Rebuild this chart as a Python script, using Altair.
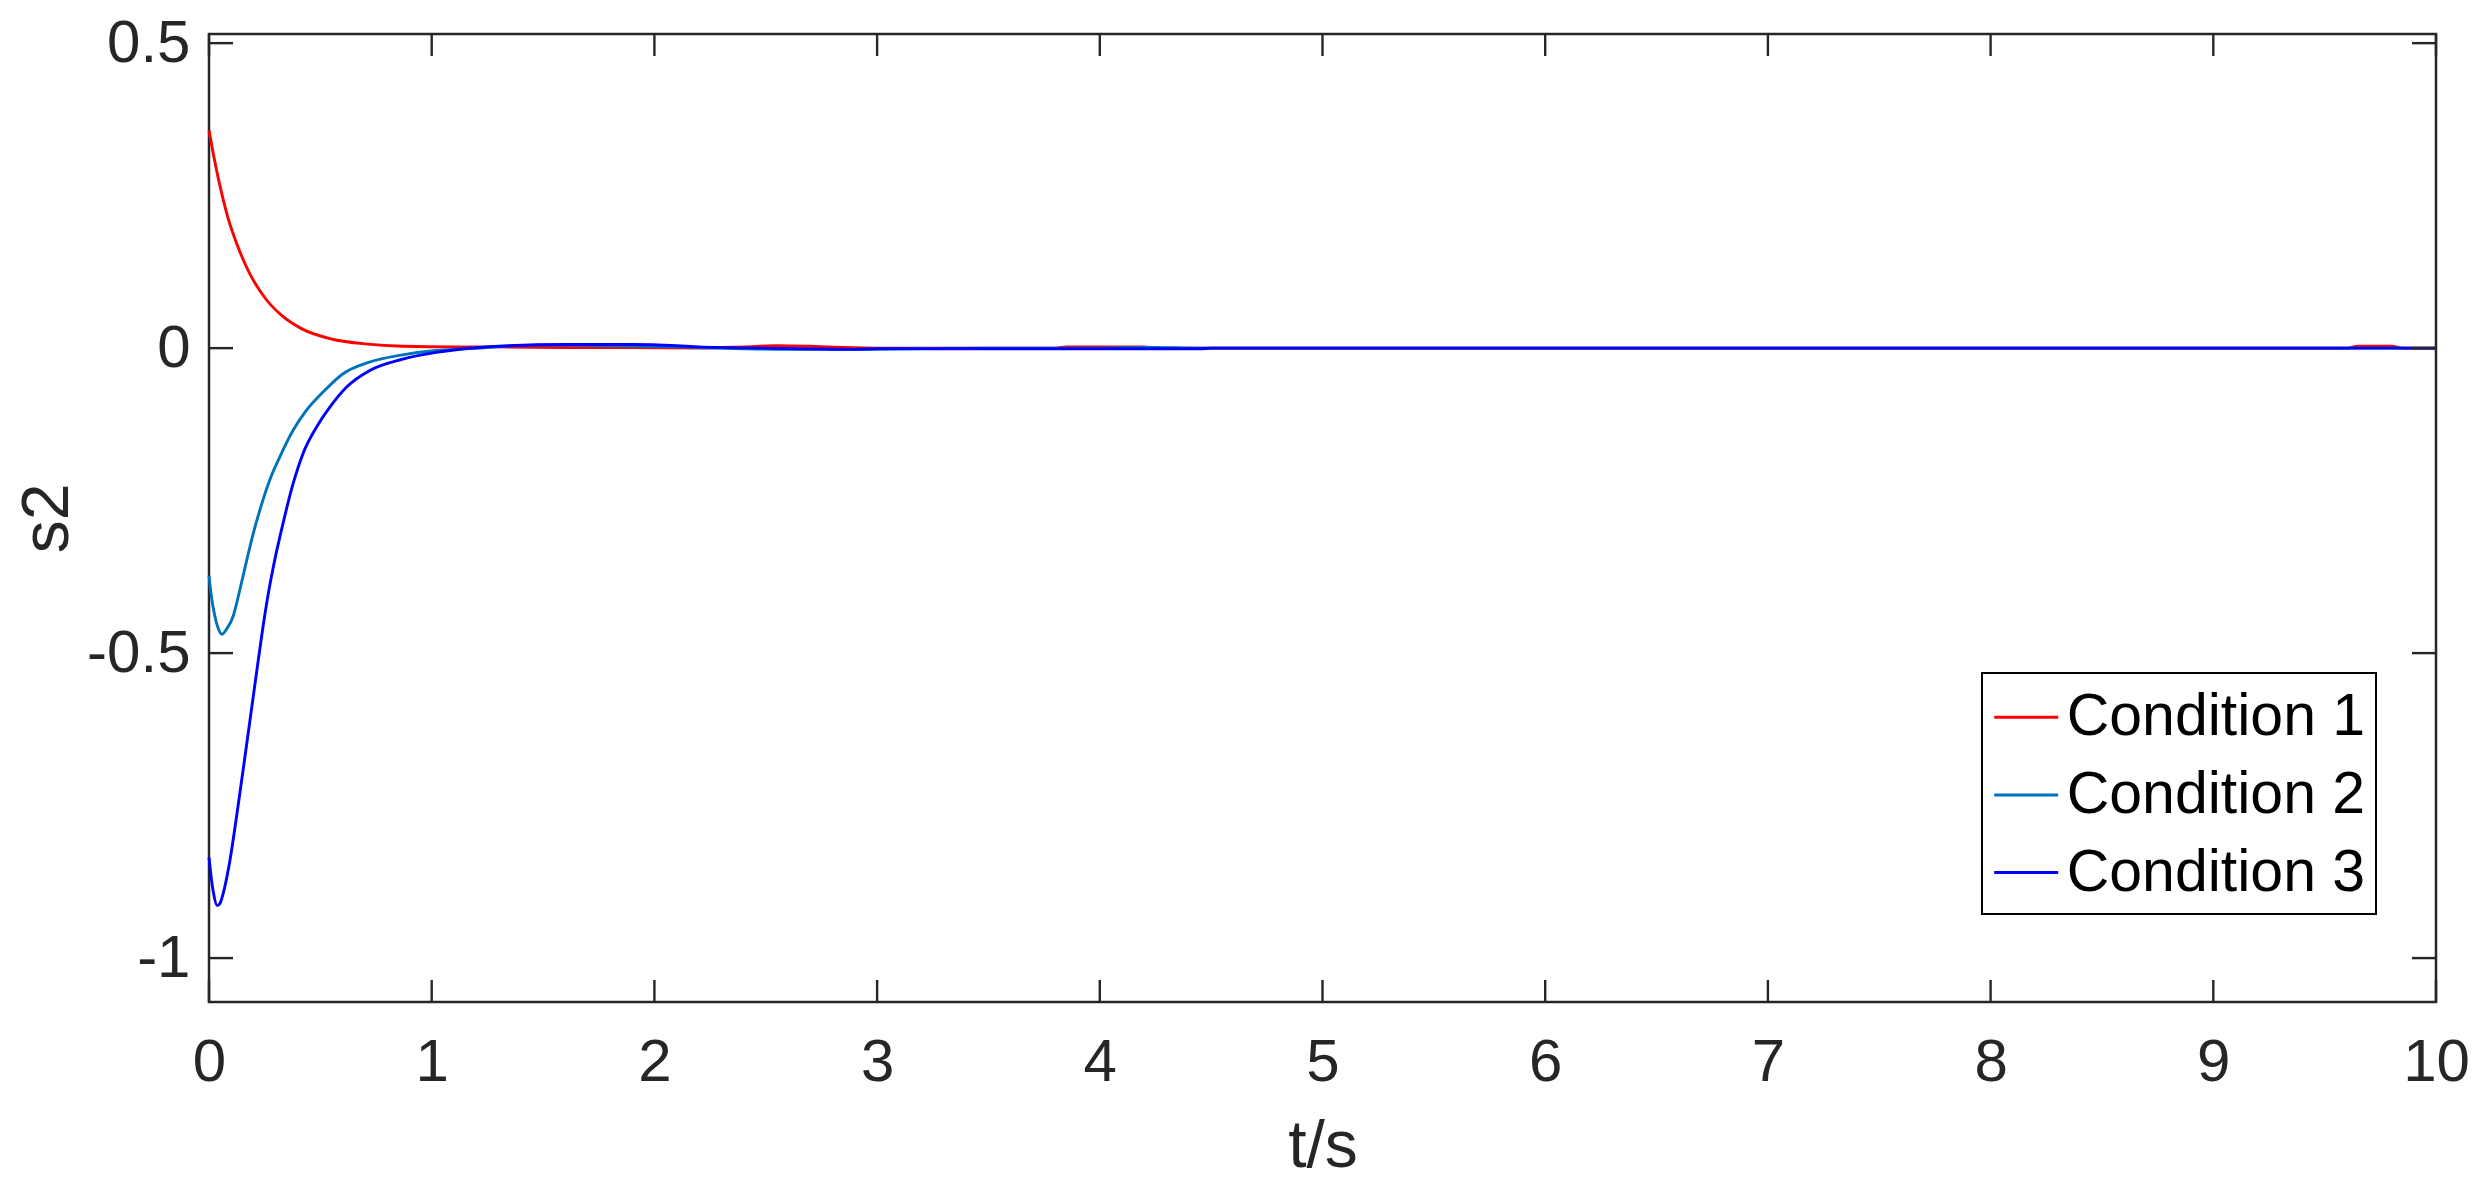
import altair as alt
import pandas as pd

# ---------------- data ----------------
series_names = ["Condition 1", "Condition 2", "Condition 3"]
series_colors = ["#FF0000", "#0072BD", "#0000FF"]

t1 = [0, 0.02, 0.048, 0.085, 0.13, 0.175, 0.25, 0.325, 0.415, 0.55, 0.70, 0.87,
      1.1, 1.3, 1.6, 1.9, 2.2, 2.4, 2.55, 2.7, 2.85, 3.0, 3.5, 3.8, 3.85, 4.2, 4.25,
      5, 6, 7, 8, 9, 9.6, 9.65, 9.8, 9.85, 10]
v1 = [0.357, 0.317, 0.268, 0.214, 0.166, 0.128, 0.083, 0.054, 0.032, 0.015, 0.007, 0.003,
      0.002, 0.002, 0.001, 0.001, 0.0, 0.002, 0.004, 0.003, 0.001, 0.0, 0.0, 0.0, 0.002, 0.002, 0.0,
      0.0, 0.0, 0.0, 0.0, 0.0, 0.0, 0.003, 0.003, 0.0, 0.0]

t2 = [0, 0.01, 0.025, 0.04, 0.058, 0.08, 0.108, 0.123, 0.138, 0.168, 0.198, 0.228,
      0.272, 0.317, 0.377, 0.437, 0.512, 0.602, 0.72, 0.87, 1.02, 1.2, 1.48, 1.6,
      1.8, 2.1, 2.4, 2.6, 2.85, 3.1, 3.5, 4.0, 4.22, 4.45, 5, 6, 7, 8, 9, 10]
v2 = [-0.373, -0.405, -0.437, -0.458, -0.469, -0.46, -0.44, -0.42, -0.397, -0.35, -0.305, -0.266,
      -0.217, -0.179, -0.135, -0.102, -0.072, -0.042, -0.023, -0.011, -0.004, 0.0, 0.005, 0.005,
      0.004, 0.002, -0.001, -0.002, -0.002, -0.001, 0.0, 0.0, 0.001, 0.0, 0.0, 0.0, 0.0, 0.0, 0.0, 0.0]

t3 = [0, 0.01, 0.02, 0.037, 0.05, 0.063, 0.093, 0.123, 0.153, 0.183, 0.212, 0.242,
      0.265, 0.287, 0.332, 0.377, 0.422, 0.482, 0.542, 0.617, 0.72, 0.87, 1.02, 1.1,
      1.3, 1.6, 1.9, 2.1, 2.2, 2.5, 2.9, 3.0, 3.5, 4.0, 4.45, 4.5, 5, 6, 7, 8, 9, 10]
v3 = [-0.835, -0.868, -0.893, -0.914, -0.91, -0.895, -0.842, -0.77, -0.692, -0.613, -0.536, -0.458,
      -0.405, -0.362, -0.288, -0.223, -0.173, -0.130, -0.097, -0.064, -0.037, -0.018, -0.007, -0.003,
      0.003, 0.006, 0.006, 0.004, 0.002, 0.0, -0.002, -0.001, -0.001, -0.001, -0.001, 0.0, 0.0, 0.0, 0.0, 0.0, 0.0, 0.0]

x_ticks = [0, 1, 2, 3, 4, 5, 6, 7, 8, 9, 10]
y_ticks = [-1, -0.5, 0, 0.5]
x_domain = [0, 10]
y_domain = [-1.072, 0.515]

# ---------------- build tables ----------------
rows = []
for name, ts, vs in zip(series_names, [t1, t2, t3], [v1, v2, v3]):
    for i, (t, v) in enumerate(zip(ts, vs)):
        rows.append({"t": t, "v": v, "series": name, "order": i})
df = pd.DataFrame(rows)
xt_df = pd.DataFrame({"t": x_ticks})
yt_df = pd.DataFrame({"v": y_ticks})

W, H = 2227, 968
AX = "#262626"
FONT = "Liberation Sans"

xscale = alt.Scale(domain=x_domain, nice=False, zero=False)
yscale = alt.Scale(domain=y_domain, nice=False, zero=False)
x_axis = alt.Axis(values=x_ticks, title="t/s", labelExpr="datum.value + ''",
                  labelPadding=31, titlePadding=22, labelFlush=False, labelOverlap=False)
y_axis = alt.Axis(values=y_ticks, title="s2", labelExpr="datum.value + ''",
                  labelPadding=19, titlePadding=5, labelFlush=False, labelOverlap=False)

lines = alt.Chart(df).mark_line(strokeWidth=2.9, interpolate="monotone").encode(
    x=alt.X("t:Q", scale=xscale, axis=x_axis),
    y=alt.Y("v:Q", scale=yscale, axis=y_axis),
    color=alt.Color("series:N",
                    scale=alt.Scale(domain=series_names, range=series_colors),
                    legend=alt.Legend(orient="none", legendX=1773, legendY=639, title=None,
                                      symbolType="stroke", symbolSize=4096, symbolStrokeWidth=3,
                                      labelFontSize=59, labelFont=FONT, labelColor="black",
                                      labelOffset=7, labelLimit=1000, rowPadding=13.7,
                                      padding=10.7, strokeColor="black", fillColor="white")),
    order="order:Q",
)

tick_style = dict(color=AX, strokeWidth=2.4)

y_left = alt.Chart(yt_df).mark_rule(**tick_style).encode(
    y=alt.Y("v:Q", scale=yscale, axis=y_axis), x=alt.value(0), x2=alt.value(24))
y_right = alt.Chart(yt_df).mark_rule(**tick_style).encode(
    y=alt.Y("v:Q", scale=yscale, axis=y_axis), x=alt.value(W - 24), x2=alt.value(W))
x_bottom = alt.Chart(xt_df).mark_rule(**tick_style).encode(
    x=alt.X("t:Q", scale=xscale, axis=x_axis), y=alt.value(H), y2=alt.value(H - 22))
x_top = alt.Chart(xt_df).mark_rule(**tick_style).encode(
    x=alt.X("t:Q", scale=xscale, axis=x_axis), y=alt.value(0), y2=alt.value(22))

chart = alt.layer(lines, y_left, y_right, x_bottom, x_top).properties(
    width=W, height=H,
    padding={"left": 201, "top": 26, "right": 34, "bottom": 180},
    autosize=alt.AutoSizeParams(type="none"),
).configure_view(
    stroke=AX, strokeWidth=2.5
).configure_axis(
    grid=False, domain=False, ticks=False, tickSize=0,
    labelFont=FONT, titleFont=FONT, labelFontSize=60, titleFontSize=66,
    titleFontWeight="normal", labelColor=AX, titleColor=AX,
).configure_legend(
    strokeWidth=2
)

chart.save("out.html", embed_options={"renderer": "svg", "actions": False})
